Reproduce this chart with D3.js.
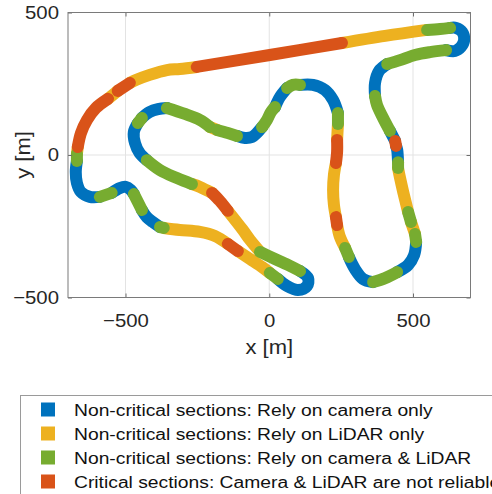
<!DOCTYPE html>
<html>
<head>
<meta charset="utf-8">
<script src="https://cdn.jsdelivr.net/npm/d3@7"></script>
<style>
  body { margin: 0; background: #fff; }
  svg { font-family: 'Liberation Sans', Arial, sans-serif; }
</style>
</head>
<body>
<svg id="svg" width="492" height="494"></svg>
<script>
const categories = [
  'Non-critical sections: Rely on camera only',
  'Non-critical sections: Rely on LiDAR only',
  'Non-critical sections: Rely on camera & LiDAR',
  'Critical sections: Camera & LiDAR are not reliable'
];
const categoryColours = ['#0072BD', '#EDB120', '#77AC30', '#D95319'];

const xTicks = [-500, 0, 500];
const yTicks = [-500, 0, 500];
const xDomain = [-700, 700];
const yDomain = [-500, 500];

// track in metres, driving order: [category, points]
// 0 camera only, 1 lidar only, 2 camera & lidar, 3 critical
const trackSections = [
  [2, [[-356,165],[-293,144],[-241,123],[-206,98]]],
  [1, [[-206,98],[-182,88]]],
  [2, [[-182,88],[-144,77],[-112,67]]],
  [0, [[-112,67],[-85,60],[-60,63],[-43,77],[-25,98]]],
  [2, [[-25,98],[-8,123],[6,151],[20,168]]],
  [0, [[20,168],[37,203],[62,235]]],
  [2, [[62,235],[82,246],[107,246]]],
  [0, [[107,246],[152,246],[194,228],[222,193],[239,147]]],
  [2, [[239,147],[239,109]]],
  [1, [[239,109],[236,53]]],
  [3, [[236,53],[236,11],[232,-28]]],
  [1, [[232,-28],[225,-70],[222,-123],[225,-175],[232,-218]]],
  [3, [[232,-218],[236,-246]]],
  [1, [[236,-246],[246,-288],[264,-326]]],
  [2, [[264,-326],[277,-358]]],
  [0, [[277,-358],[298,-400],[326,-435],[361,-446]]],
  [2, [[361,-446],[403,-432],[445,-411]]],
  [0, [[445,-411],[483,-386],[504,-351],[511,-305]]],
  [2, [[511,-305],[507,-277]]],
  [1, [[507,-277],[493,-235]]],
  [2, [[493,-235],[483,-200]]],
  [1, [[483,-200],[466,-130],[455,-81],[448,-46]]],
  [2, [[448,-46],[448,-25]]],
  [0, [[448,-25],[445,18],[441,32]]],
  [3, [[441,32],[438,49]]],
  [0, [[438,49],[420,84]]],
  [2, [[420,84],[396,130],[375,175],[368,207]]],
  [0, [[368,207],[368,253],[382,295],[410,319]]],
  [2, [[410,319],[455,333],[507,351],[559,361],[615,368]]],
  [0, [[615,368],[646,365],[667,379],[678,404],[671,432],[650,446],[629,446]]],
  [2, [[629,446],[594,442],[549,439]]],
  [1, [[549,439],[403,418],[253,393]]],
  [3, [[253,393],[2,351],[-252,309]]],
  [1, [[-252,309],[-311,302],[-356,298],[-416,281],[-464,263],[-485,253]]],
  [3, [[-485,253],[-527,225]]],
  [1, [[-527,225],[-561,197]]],
  [3, [[-561,197],[-603,165],[-634,123],[-655,77],[-666,28]]],
  [1, [[-666,28],[-669,4]]],
  [2, [[-669,4],[-669,-21]]],
  [0, [[-669,-21],[-673,-60],[-669,-98],[-655,-130],[-624,-147],[-589,-147]]],
  [2, [[-589,-147],[-548,-133]]],
  [0, [[-548,-133],[-520,-116],[-499,-112],[-481,-123],[-471,-137]]],
  [2, [[-471,-137],[-457,-165],[-443,-193]]],
  [0, [[-443,-193],[-426,-218],[-405,-235],[-380,-253]]],
  [2, [[-380,-253],[-367,-256]]],
  [1, [[-367,-256],[-311,-263],[-241,-270],[-189,-284],[-144,-312]]],
  [3, [[-144,-312],[-109,-337]]],
  [1, [[-109,-337],[-67,-365],[-25,-393],[2,-414]]],
  [2, [[2,-414],[30,-435]]],
  [0, [[30,-435],[62,-460],[100,-474],[131,-460],[135,-432],[107,-407]]],
  [2, [[107,-407],[72,-389],[20,-365],[-32,-340]]],
  [1, [[-32,-340],[-67,-298],[-92,-263],[-144,-196]]],
  [3, [[-144,-196],[-172,-161],[-199,-133]]],
  [1, [[-199,-133],[-241,-112],[-269,-102]]],
  [2, [[-269,-102],[-321,-81],[-380,-53],[-426,-18]]],
  [0, [[-426,-18],[-451,7],[-467,42],[-471,81],[-457,112]]],
  [2, [[-457,112],[-443,130]]],
  [0, [[-443,130],[-416,151],[-387,161],[-356,165]]]
];

// MATLAB-ish text is a bit wider than Liberation Sans
function stretch(sel, k) {
  sel.each(function() {
    const w = this.getComputedTextLength();
    d3.select(this).attr('textLength', w * k).attr('lengthAdjust', 'spacingAndGlyphs');
  });
}

class TrackMap {
  constructor(_config) {
    this.config = {
      left: _config.left,
      right: _config.right,
      top: _config.top,
      bottom: _config.bottom,
      tickLen: 4,
      trackWidth: 12
    };
    this.initVis();
  }

  initVis() {
    let vis = this;
    vis.svg = d3.select('#svg');

    vis.xScale = d3.scaleLinear().domain(xDomain).range([vis.config.left, vis.config.right]);
    vis.yScale = d3.scaleLinear().domain(yDomain).range([vis.config.bottom, vis.config.top]);

    vis.gridG = vis.svg.append('g').attr('class', 'grid');
    vis.trackG = vis.svg.append('g').attr('class', 'track');
    vis.axesG = vis.svg.append('g').attr('class', 'axes');
    vis.legendG = vis.svg.append('g').attr('class', 'legend');

    vis.renderVis();
  }

  renderVis() {
    let vis = this;
    const c = vis.config;

    // grid
    vis.gridG.selectAll('.gx')
      .data(xTicks)
      .join('line')
      .attr('class', 'gx')
      .attr('x1', d => vis.xScale(d)).attr('x2', d => vis.xScale(d))
      .attr('y1', c.top).attr('y2', c.bottom)
      .attr('stroke', '#e3e3e3');
    vis.gridG.selectAll('.gy')
      .data(yTicks)
      .join('line')
      .attr('class', 'gy')
      .attr('y1', d => vis.yScale(d)).attr('y2', d => vis.yScale(d))
      .attr('x1', c.left).attr('x2', c.right)
      .attr('stroke', '#e3e3e3');

    // track, drawn category by category
    const line = d3.line()
      .x(d => vis.xScale(d[0]))
      .y(d => vis.yScale(d[1]))
      .curve(d3.curveCatmullRom.alpha(0.5));

    const ordered = trackSections.slice().sort((a, b) => a[0] - b[0]);
    vis.trackG.selectAll('path')
      .data(ordered)
      .join('path')
      .attr('d', d => line(d[1]))
      .attr('fill', 'none')
      .attr('stroke', d => categoryColours[d[0]])
      .attr('stroke-width', c.trackWidth)
      .attr('stroke-linecap', 'round')
      .attr('stroke-linejoin', 'round');

    // axes
    const xAxis = d3.axisBottom(vis.xScale).tickValues(xTicks).tickSizeInner(-c.tickLen).tickSizeOuter(0).tickPadding(16);
    const yAxis = d3.axisLeft(vis.yScale).tickValues(yTicks).tickSizeInner(-c.tickLen).tickSizeOuter(0).tickPadding(9);
    const xTop = d3.axisTop(vis.xScale).tickValues(xTicks).tickSizeInner(-c.tickLen).tickSizeOuter(0).tickFormat('');
    const yRight = d3.axisRight(vis.yScale).tickValues(yTicks).tickSizeInner(-c.tickLen).tickSizeOuter(0).tickFormat('');

    vis.axesG.append('g').attr('transform', `translate(0,${c.bottom})`).call(xAxis);
    vis.axesG.append('g').attr('transform', `translate(${c.left},0)`).call(yAxis);
    vis.axesG.append('g').attr('transform', `translate(0,${c.top})`).call(xTop);
    vis.axesG.append('g').attr('transform', `translate(${c.right},0)`).call(yRight);
    vis.axesG.selectAll('path.domain').remove();
    vis.axesG.selectAll('.tick line').attr('stroke', '#6e6e6e');
    vis.axesG.selectAll('.tick text')
      .attr('fill', '#262626')
      .style('font-size', '18.5px')
      .style('font-family', "'Liberation Sans', Arial, sans-serif")
      .call(stretch, 1.1);

    vis.axesG.append('rect')
      .attr('x', c.left).attr('y', c.top)
      .attr('width', c.right - c.left).attr('height', c.bottom - c.top)
      .attr('fill', 'none')
      .attr('stroke', '#7a7a7a');

    vis.axesG.append('text')
      .attr('x', (c.left + c.right) / 2)
      .attr('y', 354)
      .attr('text-anchor', 'middle')
      .attr('fill', '#262626')
      .style('font-size', '20px')
      .text('x [m]')
      .call(stretch, 1.1);

    vis.axesG.append('text')
      .attr('transform', `translate(30,${(c.top + c.bottom) / 2}) rotate(-90)`)
      .attr('text-anchor', 'middle')
      .attr('fill', '#262626')
      .style('font-size', '20px')
      .text('y [m]')
      .call(stretch, 1.1);

    // legend
    vis.legendG.append('rect')
      .attr('x', 20.5).attr('y', 395.5)
      .attr('width', 500).attr('height', 120)
      .attr('fill', '#fff')
      .attr('stroke', '#9a9a9a');

    const rows = vis.legendG.selectAll('.row')
      .data(categories)
      .join('g')
      .attr('class', 'row')
      .attr('transform', (d, i) => `translate(0,${409.5 + i * 24})`);

    rows.append('rect')
      .attr('x', 41).attr('y', -7)
      .attr('width', 14).attr('height', 14)
      .attr('fill', (d, i) => categoryColours[i]);

    rows.append('text')
      .attr('x', 74).attr('dy', '0.36em')
      .attr('fill', '#111')
      .style('font-size', '17.3px')
      .text(d => d)
      .call(stretch, 1.115);
  }
}

new TrackMap({ left: 68, right: 470.5, top: 12.5, bottom: 297.5 });
</script>
</body>
</html>
